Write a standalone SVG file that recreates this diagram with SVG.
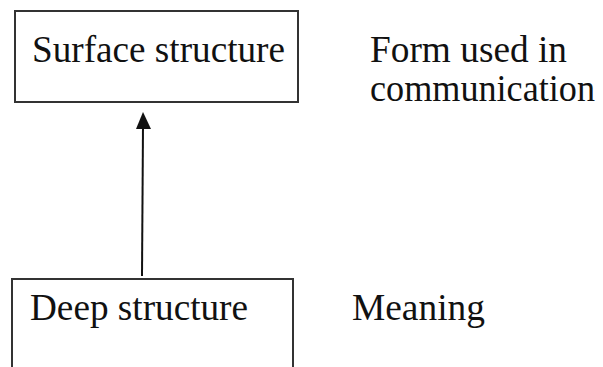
<svg xmlns="http://www.w3.org/2000/svg" width="603" height="367" viewBox="0 0 603 367">
<style>
.box{fill:#fff;stroke:#333;stroke-width:2}
.t{font-family:'Liberation Serif','Times New Roman',serif;font-size:37px;fill:#111}
.conn{stroke:#111;stroke-width:2;fill:none}
</style>
<rect width="603" height="367" fill="#fff"/>
<g id="surface">
<rect class="box" x="15" y="11" width="283" height="91"/>
<text class="t" x="32" y="62" textLength="253" lengthAdjust="spacingAndGlyphs">Surface structure</text>
</g>
<g id="deep">
<rect class="box" x="12" y="279" width="281" height="100"/>
<text class="t" x="30" y="320" textLength="218" lengthAdjust="spacingAndGlyphs">Deep structure</text>
</g>
<g id="form-label">
<text class="t" x="370" y="62" textLength="197" lengthAdjust="spacingAndGlyphs">Form used in</text>
<text class="t" x="370" y="101" textLength="225" lengthAdjust="spacingAndGlyphs">communication</text>
</g>
<g id="meaning-label">
<text class="t" x="352" y="320" textLength="133" lengthAdjust="spacingAndGlyphs">Meaning</text>
</g>
<g id="connectors">
<line class="conn" x1="142" y1="276" x2="143" y2="126"/>
<polygon points="143,112 136,129 151,129" fill="#111"/>
</g>
</svg>
